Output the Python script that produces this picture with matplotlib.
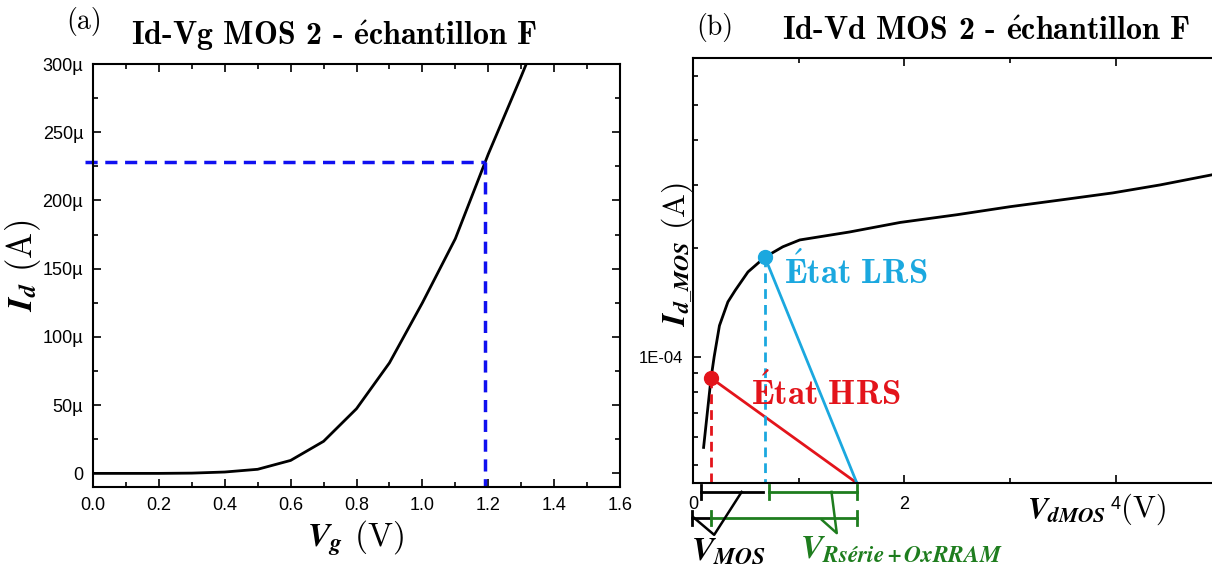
import matplotlib
matplotlib.use("Agg")
import matplotlib.pyplot as plt
import matplotlib.ticker as ticker
import matplotlib.transforms as mtransforms
import numpy as np

# (a) Id-Vg
vg = [0.0, 0.1, 0.2, 0.3, 0.4, 0.5, 0.6, 0.7, 0.8, 0.9, 1.0, 1.1, 1.2, 1.3, 1.4]
id_ua = [0.0, 0.0, 0.0, 0.2, 1.0, 3.0, 9.5, 23.5, 47.4, 81.0, 125.0, 172.0, 234.0, 291.0, 350.0]
vg_op = 1.19
id_op = 228e-6

# (b) Id-Vd
vd = [0.10, 0.17, 0.20, 0.25, 0.33, 0.40, 0.52, 0.68, 0.85, 1.01, 1.48, 1.96, 2.5, 3.0, 3.5, 3.97, 4.42, 4.91]
id_mos = [5.6e-5, 8.7e-5, 1.0e-4, 1.22e-4, 1.42e-4, 1.53e-4, 1.72e-4, 1.89e-4, 2.02e-4, 2.11e-4,
          2.22e-4, 2.36e-4, 2.48e-4, 2.61e-4, 2.73e-4, 2.85e-4, 3.0e-4, 3.2e-4]
hrs = (0.17, 8.73e-5)
lrs = (0.68, 1.89e-4)
v_supply = 1.55
ylim_b = (4.46e-5, 6.74e-4)

RED = "#e3141b"
CYAN = "#1ba8df"
GREEN = "#1e7d1e"
BLUE = "#1010f0"

fig = plt.figure(figsize=(12.12, 5.65), dpi=100)
ax1 = fig.add_axes([0.0767, 0.138, 0.4349, 0.7487])
ax2 = fig.add_axes([0.5718, 0.1451, 0.4282, 0.7517])

serif = ["cmr10", "DejaVu Serif"]
bold_serif = ["cmb10", "DejaVu Serif"]

def style_ax(ax, all_sides=True):
    for s in ax.spines.values():
        s.set_linewidth(1.5)
    ax.tick_params(which="both", direction="in", top=True, right=all_sides, width=1.2,
                   labelsize=13, pad=7)
    ax.tick_params(which="major", length=6)
    ax.tick_params(which="minor", length=3.5)
    for lab in ax.get_xticklabels() + ax.get_yticklabels():
        lab.set_family("Liberation Sans")

# ---------- (a)
ax1.plot(vg, np.array(id_ua) * 1e-6, color="black", lw=2)
ax1.plot([-0.025, vg_op], [id_op, id_op], color=BLUE, lw=2.5, ls=(0, (3.5, 2.2)), clip_on=False)
ax1.plot([vg_op, vg_op], [id_op, -10e-6], color=BLUE, lw=2.5, ls=(0, (3.5, 2.2)))
ax1.set_xlim(0, 1.6)
ax1.set_ylim(-10e-6, 300e-6)
ax1.xaxis.set_major_locator(ticker.MultipleLocator(0.2))
ax1.xaxis.set_minor_locator(ticker.MultipleLocator(0.1))
ax1.yaxis.set_major_locator(ticker.MultipleLocator(50e-6))
ax1.yaxis.set_minor_locator(ticker.MultipleLocator(25e-6))
ax1.xaxis.set_major_formatter(ticker.FormatStrFormatter("%.1f"))
ax1.yaxis.set_major_formatter(ticker.FuncFormatter(
    lambda v, p: "0" if abs(v) < 1e-9 else "%dµ" % round(v * 1e6)))
style_ax(ax1)

fig.text(0.276, 0.937, r"Id-Vg MOS 2 - $\mathbf{\acute{e}}$chantillon F", ha="center", va="center",
         family=bold_serif, fontsize=23, math_fontfamily="cm")
fig.text(0.069, 0.962, "(a)", ha="center", va="center", family=serif, fontsize=20)
fig.text(0.293, 0.048, r"$\mathbfit{V_g}$ (V)", ha="center", va="center", family=serif,
         fontsize=24, math_fontfamily="stix")
fig.text(0.019, 0.53, r"$\mathbfit{I_d}$ (A)", ha="center", va="center", rotation=90,
         family=serif, fontsize=25, math_fontfamily="stix")

# ---------- (b)
ax2.set_yscale("log")
ax2.plot(vd, id_mos, color="black", lw=2)
ax2.plot([hrs[0], v_supply], [hrs[1], ylim_b[0]], color=RED, lw=2)
ax2.plot([lrs[0], v_supply], [lrs[1], ylim_b[0]], color=CYAN, lw=2)
ax2.plot([hrs[0], hrs[0]], [hrs[1], ylim_b[0]], color=RED, lw=2, ls=(0, (3.5, 2.2)))
ax2.plot([lrs[0], lrs[0]], [lrs[1], ylim_b[0]], color=CYAN, lw=2, ls=(0, (3.5, 2.2)))
ax2.plot(*hrs, "o", color=RED, ms=10, zorder=5)
ax2.plot(*lrs, "o", color=CYAN, ms=10, zorder=5)
ax2.set_xlim(0, 4.91)
ax2.set_ylim(*ylim_b)
ax2.xaxis.set_major_locator(ticker.MultipleLocator(2))
ax2.xaxis.set_minor_locator(ticker.MultipleLocator(1))
ax2.xaxis.set_major_formatter(ticker.FormatStrFormatter("%d"))
ax2.yaxis.set_major_locator(ticker.LogLocator(base=10))
ax2.yaxis.set_minor_locator(ticker.LogLocator(base=10, subs=np.arange(2, 10)))
ax2.yaxis.set_major_formatter(ticker.FuncFormatter(lambda v, p: "1E-04" if abs(v - 1e-4) < 1e-9 else ""))
ax2.yaxis.set_minor_formatter(ticker.NullFormatter())
ax2.spines["right"].set_visible(False)
style_ax(ax2, all_sides=False)
ax2.tick_params(axis="x", pad=9)
ax2.tick_params(axis="y", labelsize=12)

ax2.text(0.86, 1.72e-4, r"$\mathbf{\acute{E}tat\ LRS}$", color=CYAN, fontsize=25,
         va="center", ha="left", math_fontfamily="cm")
ax2.text(0.55, 7.95e-5, r"$\mathbf{\acute{E}tat\ HRS}$", color=RED, fontsize=25,
         va="center", ha="left", math_fontfamily="cm")

fig.text(0.590, 0.952, "(b)", ha="center", va="center", family=serif, fontsize=20)
fig.text(0.814, 0.945, r"Id-Vd MOS 2 - $\mathbf{\acute{e}}$chantillon F", ha="center", va="center",
         family=bold_serif, fontsize=23, math_fontfamily="cm")
fig.text(0.559, 0.55, r"$\mathbfit{I_{d\_MOS}}$ (A)", ha="center", va="center", rotation=90,
         family=serif, fontsize=23, math_fontfamily="stix")
fig.text(0.913, 0.098, r"$\mathbfit{V_{dMOS}}$", ha="right", va="center",
         fontsize=22, math_fontfamily="stix")
fig.text(0.925, 0.098, "(V)", ha="left", va="center", family=serif, fontsize=22)

# voltage brackets under the axis (x in data, y in axes fraction)
tr = mtransforms.blended_transform_factory(ax2.transData, ax2.transAxes)
row1, row2, cap = -0.021, -0.082, 0.017

def bracket(x0, x1, y, color, caps=(True, True)):
    ax2.plot([x0, x1], [y, y], color=color, lw=2, transform=tr, clip_on=False)
    for x, c in zip((x0, x1), caps):
        if c:
            ax2.plot([x, x], [y - cap, y + cap], color=color, lw=2, transform=tr, clip_on=False)

bracket(0.076, 0.66, row1, "black", caps=(True, False))
bracket(0.72, v_supply, row1, GREEN)
bracket(-0.01, hrs[0], row2, "black", caps=(True, False))
bracket(hrs[0], v_supply, row2, GREEN)

ax2.plot([0.46, 0.20, 0.0], [row1, -0.122, row2 + 0.002], color="black", lw=1.8,
         transform=tr, clip_on=False)
ax2.plot([1.31, 1.36, 1.22], [row1, -0.118, row2 - 0.005], color=GREEN, lw=1.8,
         transform=tr, clip_on=False)

fig.text(0.601, 0.026, r"$\mathbfit{V_{MOS}}$", ha="center", va="center", fontsize=24,
         math_fontfamily="stix")
fig.text(0.744, 0.030, r"$\mathbfit{V_{Rsérie+OxRRAM}}$", ha="center", va="center", fontsize=24,
         color=GREEN, math_fontfamily="stix")

fig.savefig("out.png", dpi=100)
